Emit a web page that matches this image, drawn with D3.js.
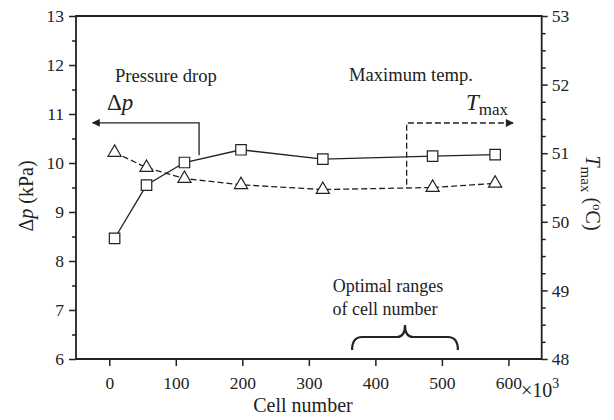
<!DOCTYPE html>
<html>
<head>
<meta charset="utf-8">
<script src="https://cdn.jsdelivr.net/npm/d3@7"></script>
<style>
  body { margin: 0; background: #fff; }
  text { font-family: "Liberation Serif", "DejaVu Serif", serif; fill: #222; }
</style>
</head>
<body>
<div id="chart"></div>
<script>
// cell number (x10^3)
var cells = [8, 56, 113, 198, 321, 486, 580];
// pressure drop, kPa (left axis, squares, solid)
var dp = [8.46, 9.55, 10.01, 10.27, 10.08, 10.14, 10.17];
// max temperature, deg C (right axis, triangles, dashed)
var tmax = [51.01, 50.79, 50.63, 50.54, 50.47, 50.5, 50.56];

var xTicks = [0, 100, 200, 300, 400, 500, 600];
var leftTicks = [6, 7, 8, 9, 10, 11, 12, 13];
var rightTicks = [48, 49, 50, 51, 52, 53];

var W = 614, H = 420;
var m = { l: 76, r: 541.7, t: 16, b: 359 };
var ink = "#222";

var svg = d3.select("#chart").append("svg").attr("width", W).attr("height", H);

var x = d3.scaleLinear().domain([-50, 650]).range([m.l, m.r]);
var yL = d3.scaleLinear().domain([6, 13]).range([m.b, m.t]);
var yR = d3.scaleLinear().domain([48, 53]).range([m.b, m.t]);

// minor ticks
var leftMinor = d3.range(6.5, 13, 1);
var rightMinor = d3.range(48, 53, 0.25).filter(function (d) { return d % 1 !== 0; });

svg.append("g").attr("transform", "translate(" + m.l + ",0)")
  .call(d3.axisLeft(yL).tickValues(leftMinor).tickSize(4).tickFormat(""));
svg.append("g").attr("transform", "translate(" + m.r + ",0)")
  .call(d3.axisRight(yR).tickValues(rightMinor).tickSize(4).tickFormat(""));

svg.append("g").attr("transform", "translate(" + m.l + ",0)")
  .call(d3.axisLeft(yL).tickValues(leftTicks).tickSize(7).tickPadding(5).tickFormat(d3.format("d")));
svg.append("g").attr("transform", "translate(" + m.r + ",0)")
  .call(d3.axisRight(yR).tickValues(rightTicks).tickSize(6).tickPadding(4).tickFormat(d3.format("d")));
svg.append("g").attr("transform", "translate(0," + m.b + ")")
  .call(d3.axisBottom(x).tickValues(xTicks).tickSize(7).tickPadding(11).tickFormat(d3.format("d")));

svg.selectAll(".domain").remove();
svg.selectAll(".tick line").attr("stroke", ink).attr("stroke-width", 1.5);
svg.selectAll(".tick text").style("font-family", "Liberation Serif").style("font-size", "17.5px").attr("fill", ink);

// frame
svg.append("path")
  .attr("d", "M" + m.l + "," + m.t + "H" + m.r + "V" + m.b + "H" + m.l + "Z")
  .attr("fill", "none").attr("stroke", ink).attr("stroke-width", 1.8);

// series lines
var lineDp = d3.line().x(function (d, i) { return x(cells[i]); }).y(function (d) { return yL(d); });
var lineT = d3.line().x(function (d, i) { return x(cells[i]); }).y(function (d) { return yR(d); });

svg.append("path").attr("d", lineT(tmax)).attr("fill", "none").attr("stroke", ink)
  .attr("stroke-width", 1.3).attr("stroke-dasharray", "6,3");
svg.append("path").attr("d", lineDp(dp)).attr("fill", "none").attr("stroke", ink)
  .attr("stroke-width", 1.3);

var sq = d3.symbol().type(d3.symbolSquare).size(110);
var tri = d3.symbol().type(d3.symbolTriangle).size(75);

svg.selectAll(".tri").data(tmax).enter().append("path")
  .attr("class", "tri").attr("d", tri)
  .attr("transform", function (d, i) { return "translate(" + x(cells[i]) + "," + yR(d) + ")"; })
  .attr("fill", "#fff").attr("stroke", ink).attr("stroke-width", 1.2);
svg.selectAll(".sq").data(dp).enter().append("path")
  .attr("class", "sq").attr("d", sq)
  .attr("transform", function (d, i) { return "translate(" + x(cells[i]) + "," + yL(d) + ")"; })
  .attr("fill", "#fff").attr("stroke", ink).attr("stroke-width", 1.2);

// arrow heads
var defs = svg.append("defs");
defs.append("marker").attr("id", "arr").attr("viewBox", "0 0 10 10")
  .attr("refX", 9).attr("refY", 5).attr("markerWidth", 10).attr("markerHeight", 8)
  .attr("markerUnits", "userSpaceOnUse").attr("orient", "auto")
  .append("path").attr("d", "M0,0L10,5L0,10Z").attr("fill", ink);

// pressure drop annotation
svg.append("path")
  .attr("d", "M" + x(135) + "," + yL(10.16) + "V" + yL(10.82) + "H" + x(-25))
  .attr("fill", "none").attr("stroke", ink).attr("stroke-width", 1.3).attr("marker-end", "url(#arr)");
svg.append("text").attr("x", 115).attr("y", 82).style("font-size", "18.6px").text("Pressure drop");
var dpt = svg.append("text").attr("x", 107).attr("y", 110).style("font-size", "23px");
dpt.append("tspan").text("Δ");
dpt.append("tspan").style("font-style", "italic").text("p");

// max temperature annotation
svg.append("path")
  .attr("d", "M" + x(447) + "," + yR(50.54) + "V" + yR(51.44) + "H" + x(607))
  .attr("fill", "none").attr("stroke", ink).attr("stroke-width", 1.3)
  .attr("stroke-dasharray", "6,3").attr("marker-end", "url(#arr)");
svg.append("text").attr("x", 349).attr("y", 81).style("font-size", "18.6px").text("Maximum temp.");
var tt = svg.append("text").attr("x", 466).attr("y", 110).style("font-size", "23px");
tt.append("tspan").style("font-style", "italic").text("T");
tt.append("tspan").attr("dy", 5).style("font-size", "17px").text("max");

// optimal range brace
var bx0 = x(365), bx1 = x(524), bxc = x(444.5);
var yb = 350, ym = 337, yt = 325;
svg.append("path")
  .attr("d", "M" + bx0 + "," + yb + "Q" + bx0 + "," + ym + " " + (bx0 + 10) + "," + ym +
    "L" + (bxc - 8) + "," + ym + "Q" + bxc + "," + ym + " " + bxc + "," + yt +
    "Q" + bxc + "," + ym + " " + (bxc + 8) + "," + ym +
    "L" + (bx1 - 10) + "," + ym + "Q" + bx1 + "," + ym + " " + bx1 + "," + yb)
  .attr("fill", "none").attr("stroke", ink).attr("stroke-width", 2.2);
svg.append("text").attr("x", 388).attr("y", 292).attr("text-anchor", "middle").style("font-size", "18px").text("Optimal ranges");
svg.append("text").attr("x", 385).attr("y", 315).attr("text-anchor", "middle").style("font-size", "18px").text("of cell number");

// axis titles
svg.append("text").attr("x", 303).attr("y", 412).attr("text-anchor", "middle").style("font-size", "20px").text("Cell number");
var xm = svg.append("text").attr("x", 521).attr("y", 397).style("font-size", "20px");
xm.append("tspan").text("×10");
xm.append("tspan").attr("dy", -9).style("font-size", "14px").text("3");

var ly = svg.append("text").attr("transform", "translate(33,196) rotate(-90)")
  .attr("text-anchor", "middle").style("font-size", "20px");
ly.append("tspan").text("Δ");
ly.append("tspan").style("font-style", "italic").text("p");
ly.append("tspan").text(" (kPa)");

var ry = svg.append("text").attr("transform", "translate(586,193) rotate(90)")
  .attr("text-anchor", "middle").style("font-size", "20px");
ry.append("tspan").style("font-style", "italic").text("T");
ry.append("tspan").attr("dy", 5).style("font-size", "15px").text("max");
ry.append("tspan").attr("dy", -5).text(" (");
ry.append("tspan").attr("dy", -7).style("font-size", "13px").text("o");
ry.append("tspan").attr("dy", 7).text("C)");
</script>
</body>
</html>
